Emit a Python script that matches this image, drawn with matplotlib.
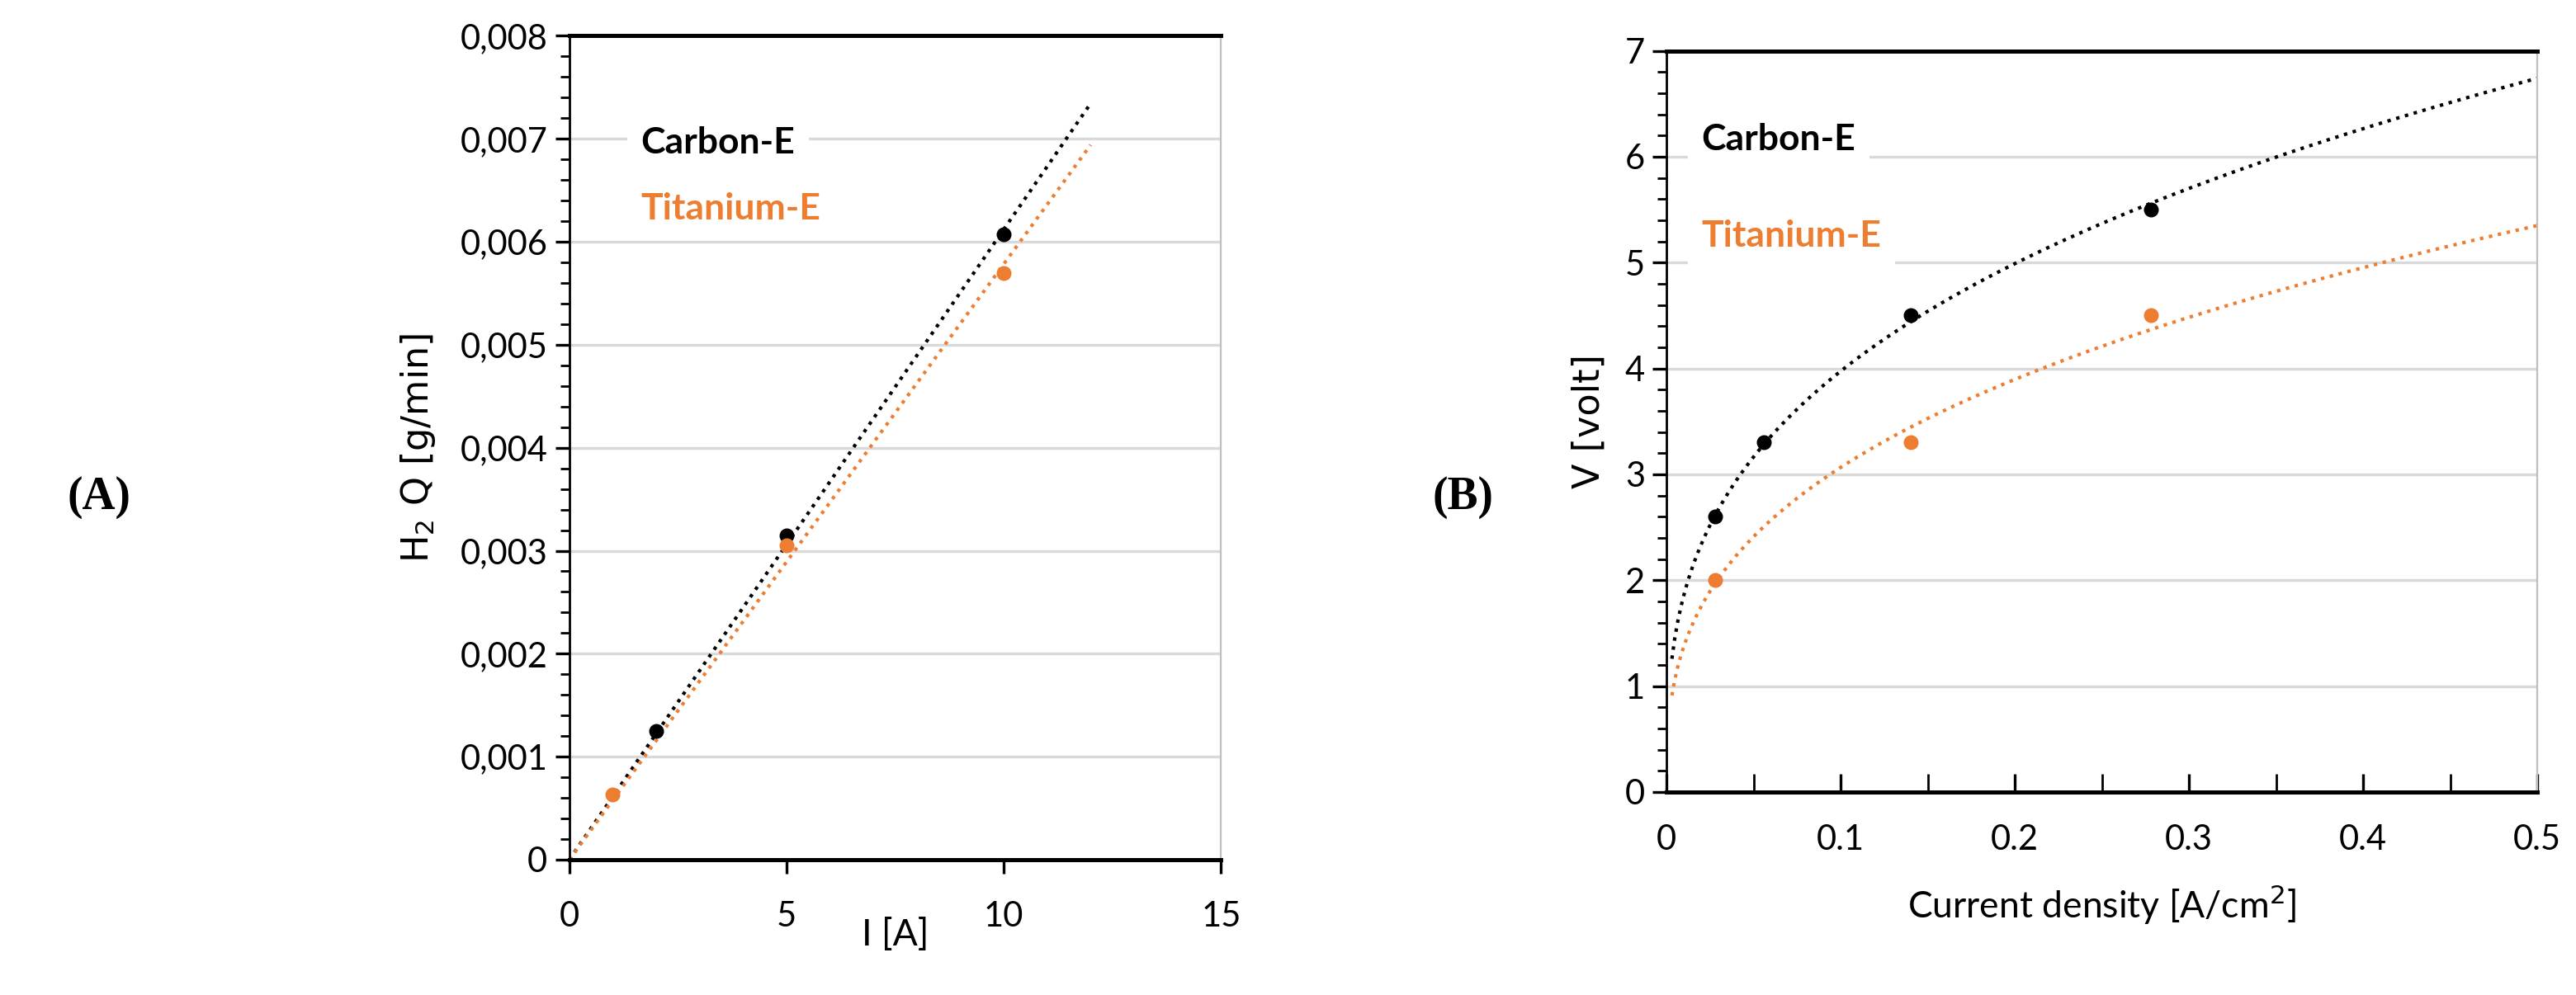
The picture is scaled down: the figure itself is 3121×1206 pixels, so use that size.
import numpy as np
import matplotlib
matplotlib.use('Agg')
import matplotlib.pyplot as plt
from matplotlib.ticker import MultipleLocator, FuncFormatter

plt.rcParams['font.family'] = ['Lato', 'DejaVu Sans']

NEGRO = '#000000'
NARANJA = '#ed7d31'

# Panel A: caudal de H2 frente a corriente
corriente_carbon = [2, 5, 10]
caudal_carbon = [0.00125, 0.00315, 0.00607]
corriente_titanio = [1, 5, 10]
caudal_titanio = [0.00063, 0.00305, 0.00570]

# Panel B: voltaje frente a densidad de corriente
densidad_carbon = [0.028, 0.056, 0.14, 0.278]
voltaje_carbon = [2.6, 3.3, 4.5, 5.5]
densidad_titanio = [0.028, 0.14, 0.278]
voltaje_titanio = [2.0, 3.3, 4.5]

fig = plt.figure(figsize=(15.605, 6.03), dpi=200)
axA = fig.add_axes([0.221, 0.136, 0.253, 0.828])
axB = fig.add_axes([0.647, 0.204, 0.338, 0.745])

def estilo(ax):
    ax.grid(axis='y', color='#d9d9d9', lw=1.2, zorder=0)
    ax.set_axisbelow(True)
    ax.spines['top'].set_linewidth(1.8)
    ax.spines['bottom'].set_linewidth(1.8)
    ax.spines['right'].set_color('#bfbfbf')
    ax.spines['left'].set_linewidth(1.0)
    ax.tick_params(labelsize=15, length=6, width=1.2)
    ax.tick_params(which='minor', length=4, width=1)

# --- A: ajuste lineal por el origen
for xs, ys, c in [(corriente_carbon, caudal_carbon, NEGRO), (corriente_titanio, caudal_titanio, NARANJA)]:
    xs = np.array(xs); ys = np.array(ys)
    pendiente = (xs * ys).sum() / (xs * xs).sum()
    xl = np.linspace(0, 12, 50)
    axA.plot(xl, pendiente * xl, ls=':', color=c, lw=1.5, zorder=2)
    axA.scatter(xs, ys, s=30, color=c, zorder=3)
axA.set_xlim(0, 15)
axA.set_ylim(0, 0.008)
axA.xaxis.set_major_locator(MultipleLocator(5))
axA.yaxis.set_major_locator(MultipleLocator(0.001))
axA.yaxis.set_minor_locator(MultipleLocator(0.0002))
axA.yaxis.set_major_formatter(FuncFormatter(lambda v, p: '0' if v == 0 else f'{v:.3f}'.replace('.', ',')))
estilo(axA)
axA.tick_params(axis='x', pad=12)
axA.set_xlabel('I [A]', fontsize=16, labelpad=-6)
axA.set_ylabel('H$_2$ Q [g/min]', fontsize=16, labelpad=10, family='DejaVu Sans')
axA.text(0.11, 0.87, 'Carbon-E', transform=axA.transAxes, fontsize=16, fontweight='bold',
         color=NEGRO, va='center', bbox=dict(fc='white', ec='none', pad=6))
axA.text(0.11, 0.79, 'Titanium-E', transform=axA.transAxes, fontsize=16, fontweight='bold',
         color=NARANJA, va='center', bbox=dict(fc='white', ec='none', pad=6))

# --- B: ajuste potencial
for xs, ys, c in [(densidad_carbon, voltaje_carbon, NEGRO), (densidad_titanio, voltaje_titanio, NARANJA)]:
    b, lna = np.polyfit(np.log(xs), np.log(ys), 1)
    xl = np.linspace(0.003, 0.5, 300)
    axB.plot(xl, np.exp(lna) * xl ** b, ls=':', color=c, lw=1.5, zorder=2)
    axB.scatter(xs, ys, s=30, color=c, zorder=3)
axB.set_xlim(0, 0.5)
axB.set_ylim(0, 7)
axB.xaxis.set_major_locator(MultipleLocator(0.1))
axB.xaxis.set_minor_locator(MultipleLocator(0.05))
axB.yaxis.set_major_locator(MultipleLocator(1))
axB.yaxis.set_minor_locator(MultipleLocator(0.2))
axB.xaxis.set_major_formatter(FuncFormatter(lambda v, p: '0' if v == 0 else f'{v:.1f}'))
estilo(axB)
axB.tick_params(axis='x', which='both', direction='in', length=8, pad=14)
axB.set_xlabel('Current density [A/cm$^2$]', fontsize=16, labelpad=12)
axB.set_ylabel('V [volt]', fontsize=16, labelpad=8, family='DejaVu Sans')
axB.text(0.04, 0.88, 'Carbon-E', transform=axB.transAxes, fontsize=16, fontweight='bold',
         color=NEGRO, va='center', bbox=dict(fc='white', ec='none', pad=6))
axB.text(0.04, 0.75, 'Titanium-E', transform=axB.transAxes, fontsize=16, fontweight='bold',
         color=NARANJA, va='center', bbox=dict(fc='white', ec='none', pad=6))

fig.text(0.026, 0.5, '(A)', fontsize=20, fontweight='bold', family='Liberation Serif', va='center')
fig.text(0.556, 0.5, '(B)', fontsize=20, fontweight='bold', family='Liberation Serif', va='center')

fig.savefig('out.png', dpi=200)
